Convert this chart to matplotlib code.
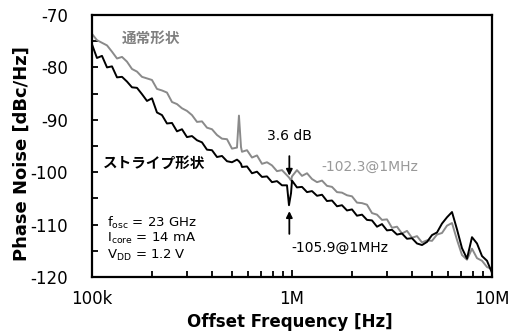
import matplotlib
matplotlib.use("Agg")
import matplotlib.pyplot as plt
from matplotlib.ticker import FixedLocator, FixedFormatter, MultipleLocator, NullFormatter

plt.rcParams['font.family'] = ['DejaVu Sans', 'Noto Sans CJK JP']
plt.rcParams['axes.unicode_minus'] = False
plt.rcParams['mathtext.fontset'] = 'dejavusans'

# offset frequency [kHz]
freq_khz = [100, 105.9, 112.2, 118.9, 125.9, 133.4, 141.3, 149.6, 158.5, 167.9,
            177.8, 188.4, 199.5, 211.3, 223.9, 237.1, 251.2, 266.1, 281.8, 298.5,
            316.2, 335.0, 354.8, 375.8, 398.1, 421.7, 446.7, 473.2, 501.2, 530.9,
            543, 556, 562.3, 595.7, 631.0, 668.3, 707.9, 749.9, 794.3, 841.4,
            891.3, 944.1, 966, 989, 1000, 1059, 1122, 1189, 1259, 1334,
            1413, 1496, 1585, 1679, 1778, 1884, 1995, 2113, 2239, 2371,
            2512, 2661, 2818, 2985, 3162, 3350, 3548, 3758, 3981, 4217,
            4467, 4732, 5012, 5309, 5623, 5957, 6310, 6683, 7079, 7499,
            7943, 8414, 8913, 9441, 10000]

# 通常形状 (gray)
normal = [-73.6, -74.8, -75.3, -75.8, -77.0, -78.3, -78.0, -78.9, -80.3, -80.8,
          -81.8, -82.1, -82.4, -84.1, -84.4, -84.8, -86.6, -87.0, -87.8, -88.3,
          -89.1, -90.4, -90.3, -91.5, -91.8, -92.9, -93.6, -93.7, -95.5, -95.3,
          -89.2, -95.2, -96.1, -95.8, -97.2, -96.8, -98.4, -98.1, -98.7, -99.8,
          -99.6, -100.6, -101.0, -101.6, -100.8, -99.6, -100.7, -100.2, -101.3, -101.9,
          -101.6, -102.6, -102.8, -103.8, -103.9, -104.4, -104.6, -105.8, -105.9, -106.2,
          -107.8, -108.1, -109.1, -109.0, -110.6, -110.4, -111.7, -111.2, -112.5, -112.2,
          -113.4, -113.0, -113.1, -111.9, -111.6, -110.2, -109.7, -112.9, -115.8, -116.7,
          -114.6, -116.4, -116.9, -118.1, -118.5]

# ストライプ形状 (black)
stripe = [-75.6, -78.2, -77.8, -80.0, -79.8, -81.9, -81.8, -82.7, -83.8, -83.9,
          -85.1, -86.4, -85.9, -88.6, -89.1, -90.7, -90.6, -92.2, -91.8, -93.3,
          -93.1, -93.9, -94.3, -95.7, -95.8, -97.1, -96.9, -97.9, -98.1, -97.6,
          -97.9, -98.4, -99.0, -98.9, -100.2, -99.9, -100.9, -100.8, -101.9, -101.7,
          -102.5, -102.5, -106.3, -104.0, -101.6, -102.9, -102.8, -103.8, -103.6, -104.5,
          -104.3, -105.5, -105.4, -106.5, -106.3, -107.3, -107.1, -108.3, -108.1, -109.1,
          -109.2, -110.4, -109.9, -111.1, -111.0, -111.9, -111.7, -112.7, -112.6, -113.6,
          -113.9, -113.3, -112.0, -111.5, -109.8, -108.6, -107.6, -110.9, -114.5, -116.5,
          -112.4, -113.6, -116.0, -116.9, -119.2]

freq = [f * 1e3 for f in freq_khz]

fig = plt.figure(figsize=(5.09, 3.35), dpi=100)
ax = fig.add_axes([0.1807, 0.1731, 0.7859, 0.7821])

ax.plot(freq, normal, color='#8a8a8a', lw=1.4)
ax.plot(freq, stripe, color='black', lw=1.4)

ax.set_xscale('log')
ax.set_xlim(1e5, 1e7)
ax.set_ylim(-120, -70)

ax.xaxis.set_major_locator(FixedLocator([1e5, 1e6, 1e7]))
ax.xaxis.set_major_formatter(FixedFormatter(['100k', '1M', '10M']))
ax.xaxis.set_minor_formatter(NullFormatter())
ax.yaxis.set_major_locator(MultipleLocator(10))
ax.yaxis.set_minor_locator(MultipleLocator(5))

ax.tick_params(axis='both', which='both', direction='in', labelsize=12)
ax.tick_params(axis='x', which='major', length=5, width=1.3, pad=9)
ax.tick_params(axis='x', which='minor', length=4, width=1.3)
ax.tick_params(axis='y', which='both', length=4, width=1.3, pad=17.5)
for s in ax.spines.values():
    s.set_linewidth(1.6)

ax.set_xlabel('Offset Frequency [Hz]', fontsize=12, fontweight='bold', va='center')
ax.set_ylabel('Phase Noise [dBc/Hz]', fontsize=13, fontweight='bold', va='center')
ax.xaxis.set_label_coords(0.495, -0.172)
ax.yaxis.set_label_coords(-0.176, 0.47)

ax.text(1.97e5, -74.4, '通常形状', color='#808080', fontsize=10.5,
        fontweight='bold', ha='center', va='center')
ax.text(2.04e5, -98.3, 'ストライプ形状', color='black', fontsize=10.5,
        fontweight='bold', ha='center', va='center')

ax.text(0.97e6, -93.0, '3.6 dB', fontsize=10, ha='center', va='center')
ax.annotate('', xy=(0.97e6, -101.2), xytext=(0.97e6, -96.4),
            arrowprops=dict(arrowstyle='-|>', color='black', lw=1.3, mutation_scale=9))
ax.annotate('', xy=(0.97e6, -106.9), xytext=(0.97e6, -112.3),
            arrowprops=dict(arrowstyle='-|>', color='black', lw=1.3, mutation_scale=9))
ax.text(1.41e6, -99.0, '-102.3@1MHz', color='#999999', fontsize=10,
        ha='left', va='center')
ax.text(0.995e6, -114.4, '-105.9@1MHz', color='black', fontsize=10,
        ha='left', va='center')

ax.text(1.19e5, -109.7, r'f$_{\rm osc}$ = 23 GHz', fontsize=9.5, va='center')
ax.text(1.19e5, -112.7, r'I$_{\rm core}$ = 14 mA', fontsize=9.5, va='center')
ax.text(1.19e5, -115.8, r'V$_{\rm DD}$ = 1.2 V', fontsize=9.5, va='center')

fig.savefig('out.png', dpi=100)
